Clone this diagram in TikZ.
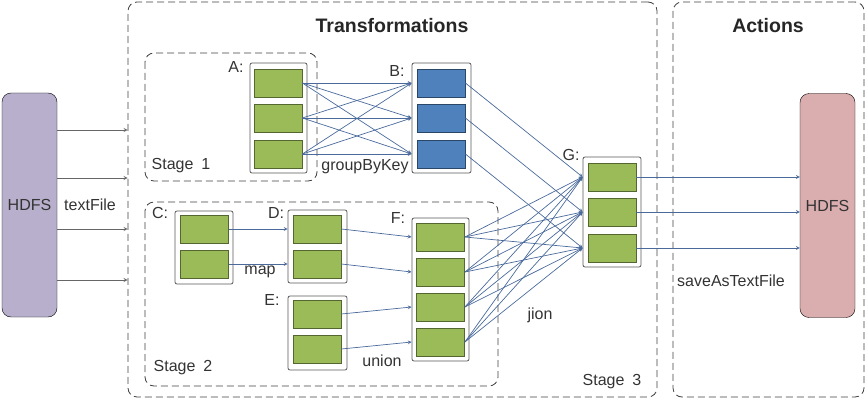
\documentclass[tikz,border=0pt]{standalone}
\usepackage{fontspec}
\setmainfont{Liberation Sans}
\usetikzlibrary{arrows}

\begin{document}
\begin{tikzpicture}[x=1pt, y=-1pt,
    %Option for nice arrows
    >=stealth, %
    every node/.style={font=\fontsize{16}{19}\selectfont, text=black!80},
    store/.style={draw=black, fill=#1, rounded corners=9pt, minimum width=55pt, minimum height=224pt, inner sep=0pt},
    region/.style={draw=black!75, line width=0.8pt, dash pattern=on 7pt off 4pt, rounded corners=9pt},
    rdd/.style={draw=black!65, line width=0.8pt, fill=white, rounded corners=2pt, inner sep=0pt},
    part/.style={draw=#1!55!black, line width=0.8pt, fill=#1, minimum width=48pt, minimum height=28pt, inner sep=0pt},
    flow/.style={->, color=linkblue, line width=0.7pt},
    feed/.style={->, color=black!60, line width=0.8pt},
    title/.style={font=\fontsize{19.5}{23}\selectfont\bfseries, text=black!85},
]
    % Colors
    \definecolor{lavender}{HTML}{B8AFCC}
    \definecolor{rose}{HTML}{DAADAF}
    \definecolor{leaf}{HTML}{9BBB59}
    \definecolor{sky}{HTML}{4F81BD}
    \definecolor{linkblue}{HTML}{4A6A9C}

    \useasboundingbox (0,0) rectangle (866,401);

    % Frames
    \draw[region] (145,53) rectangle (317,181);
    \draw[region] (145,202) rectangle (498,386);
    \node[region, minimum width=529pt, minimum height=395pt] (trans) at (392.5,199.5) {};
    \node[region, minimum width=191pt, minimum height=395pt] (act) at (768.5,199.5) {};
    \node[title] at (392,26) {Transformations};
    \node[title] at (768,26) {Actions};

    % Storage
    \node[store=lavender] (hdfsin) at (29.5,205) {HDFS};
    \node[store=rose] (hdfsout) at (827.5,205.5) {HDFS};

    % RDD containers
    \node[rdd, minimum width=57pt, minimum height=110pt] (acont) at (278.5,118) {};
    \node[rdd, minimum width=59pt, minimum height=110pt] (bcont) at (441.5,118) {};
    \node[rdd, minimum width=58pt, minimum height=73pt]  (ccont) at (204,247.5) {};
    \node[rdd, minimum width=59pt, minimum height=73pt]  (dcont) at (317.5,246.5) {};
    \node[rdd, minimum width=59pt, minimum height=74pt]  (econt) at (317.5,333) {};
    \node[rdd, minimum width=57pt, minimum height=143pt] (fcont) at (440.5,289.5) {};
    \node[rdd, minimum width=58pt, minimum height=110pt] (gcont) at (612,212) {};

    % Partitions
    \foreach \i/\y in {1/83, 2/118, 3/154} {
        \node[part=leaf] (a\i) at (278,\y) {};
        \node[part=sky]  (b\i) at (441,\y) {};
    }
    \foreach \i/\y in {1/177, 2/212, 3/248}
        \node[part=leaf] (g\i) at (612,\y) {};
    \foreach \i/\y in {1/229, 2/264} {
        \node[part=leaf] (c\i) at (204.5,\y) {};
        \node[part=leaf] (d\i) at (317,\y) {};
    }
    \foreach \i/\y in {1/314, 2/349}
        \node[part=leaf] (e\i) at (317,\y) {};
    \foreach \i/\y in {1/237, 2/272, 3/307, 4/342}
        \node[part=leaf] (f\i) at (440.5,\y) {};

    % Labels
    \node at (236,67) {A:};
    \node at (397,71) {B:};
    \node at (160,213) {C:};
    \node at (276,213) {D:};
    \node at (272,300) {E:};
    \node at (398,218) {F:};
    \node at (571,155) {G:};
    \node at (90,205) {textFile};
    \node at (365,167) {groupByKey};
    \node at (260,272) {map};
    \node at (382,361) {union};
    \node at (540,315) {jion};
    \node at (731,281) {saveAsTextFile};
    \node at (181,166) {Stage\enspace1};
    \node at (183,368) {Stage\enspace2};
    \node at (612,382) {Stage\enspace3};

    % Reading from HDFS
    \foreach \y in {130,178,229,280}
        \draw[feed] (hdfsin.east |- 0,\y) -- (trans.west |- 0,\y);

    % groupByKey: every A partition to every B partition
    \foreach \i in {1,2,3}
        \foreach \j in {1,2,3}
            \draw[flow] (a\i.east) -- (bcont.west |- b\j);

    % map and union
    \foreach \i in {1,2} {
        \draw[flow] (c\i.east) -- (dcont.west |- d\i);
        \draw[flow] (d\i.east) -- (fcont.west |- f\i);
    }
    \draw[flow] (e1.east) -- (fcont.west |- f3);
    \draw[flow] (e2.east) -- (fcont.west |- f4);

    % jion
    \foreach \i in {1,2,3}
        \draw[flow] (b\i.east) -- (gcont.west |- g\i);
    \foreach \i in {1,2,3,4}
        \foreach \j in {1,2,3}
            \draw[flow] (f\i.east) -- (gcont.west |- g\j);

    % saveAsTextFile
    \foreach \i in {1,2,3}
        \draw[flow] (g\i.east) -- (hdfsout.west |- g\i);
\end{tikzpicture}
\end{document}
